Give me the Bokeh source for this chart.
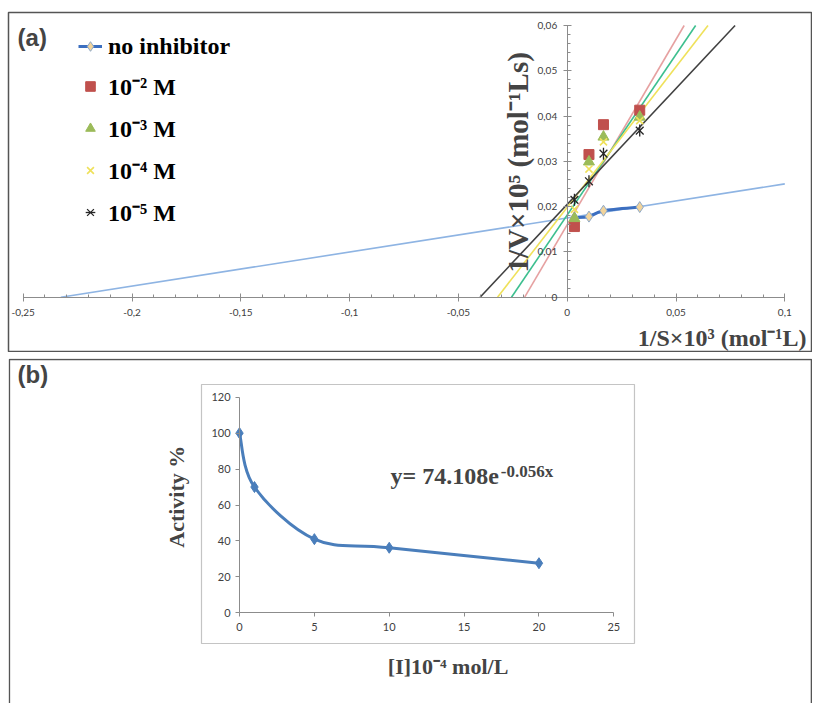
import numpy as np
from bokeh.plotting import figure
from bokeh.models import (FixedTicker, CustomJSTickFormatter, Label, Legend,
                          LegendItem, BoxAnnotation)
from bokeh.layouts import column
from bokeh.embed import file_html
from bokeh.resources import INLINE

# ---------------- data: panel (a) Lineweaver-Burk ----------------
inv_s = [0.00333, 0.01, 0.01667, 0.03333]          # 1/S x10^3
no_inhibitor = [0.0176, 0.0178, 0.0191, 0.0199]
inh_1e2 = [0.0156, 0.0315, 0.0381, 0.0413]
inh_1e3 = [0.0174, 0.0299, 0.0354, 0.0398]
inh_1e4 = [0.0194, 0.0283, 0.0343, 0.0390]
inh_1e5 = [0.0215, 0.0256, 0.0317, 0.0368]
series_labels = ["no inhibitor", "10⁻² M", "10⁻³ M", "10⁻⁴ M", "10⁻⁵ M"]
# linear trend lines (slope, intercept) for each series
trend_slope = [0.0752, 0.8186, 0.709, 0.6205, 0.512]
trend_icpt = [0.0175, 0.0160, 0.01815, 0.01986, 0.0205]
xa_ticks = [-0.25, -0.2, -0.15, -0.1, -0.05, 0, 0.05, 0.1]
ya_ticks = [0, 0.01, 0.02, 0.03, 0.04, 0.05, 0.06]

# ---------------- data: panel (b) activity ----------------
inhib_conc = [0, 1, 5, 10, 20]
activity = [100, 70, 41, 36.2, 27.6]
xb_ticks = [0, 5, 10, 15, 20, 25]
yb_ticks = [0, 20, 40, 60, 80, 100, 120]


def bezier_segments(xs, ys, t=1.0 / 6):
    xs = np.asarray(xs, float)
    ys = np.asarray(ys, float)
    n = len(xs)
    out = {k: [] for k in ("x0", "y0", "x1", "y1", "cx0", "cy0", "cx1", "cy1")}
    for i in range(n - 1):
        ip = max(i - 1, 0)
        inn = min(i + 2, n - 1)
        out["x0"].append(xs[i]); out["y0"].append(ys[i])
        out["x1"].append(xs[i + 1]); out["y1"].append(ys[i + 1])
        out["cx0"].append(xs[i] + (xs[i + 1] - xs[ip]) * t)
        out["cy0"].append(ys[i] + (ys[i + 1] - ys[ip]) * t)
        out["cx1"].append(xs[i + 1] - (xs[inn] - xs[i]) * t)
        out["cy1"].append(ys[i + 1] - (ys[inn] - ys[i]) * t)
    return out


AXIS_COLOR = "#8c8c8c"
TICK_TEXT = "#404040"
SERIF = "Liberation Serif"

# ================= panel (a) =================
pa = figure(width=812, height=352, x_range=(-0.25676, 0.11273),
            y_range=(-0.01221, 0.06287), output_backend="svg",
            toolbar_location=None, min_border_top=12, min_border_left=8,
            min_border_right=0, min_border_bottom=0)
pa.xgrid.visible = False
pa.ygrid.visible = False
pa.outline_line_color = "#555555"
pa.outline_line_width = 1.5

fmt_a = CustomJSTickFormatter(
    code="return tick === 0 ? '0' : String(Number(tick.toFixed(3))).replace('.', ',');")
pa.xaxis.fixed_location = 0
pa.xaxis.bounds = (xa_ticks[0], xa_ticks[-1])
pa.xaxis.ticker = FixedTicker(ticks=xa_ticks,
                              minor_ticks=[round(-0.25 + 0.01 * i, 3) for i in range(36)])
pa.yaxis.fixed_location = 0
pa.yaxis.bounds = (ya_ticks[0], ya_ticks[-1])
pa.yaxis.ticker = FixedTicker(ticks=ya_ticks,
                              minor_ticks=[round(0.002 * i, 3) for i in range(31)])
for ax in (pa.xaxis, pa.yaxis):
    ax.formatter = fmt_a
    ax.axis_line_color = AXIS_COLOR
    ax.major_tick_line_color = AXIS_COLOR
    ax.minor_tick_line_color = AXIS_COLOR
    ax.major_tick_in = 4
    ax.major_tick_out = 4
    ax.minor_tick_in = 3
    ax.minor_tick_out = 0
    ax.major_label_text_font = "Lato"
    ax.major_label_text_font_size = "10px"
    ax.major_label_text_color = TICK_TEXT
pa.xaxis.major_label_standoff = 8
pa.yaxis.major_label_standoff = 6

trend_colors = ["#8eb4e3", "#e6a1a1", "#3dbf8f", "#efe15a", "#404040"]
for m, b, c in zip(trend_slope, trend_icpt, trend_colors):
    x0 = max(xa_ticks[0], -b / m)
    x1 = min(xa_ticks[-1], (ya_ticks[-1] - b) / m)
    pa.line([x0, x1], [m * x0 + b, m * x1 + b], line_color=c, line_width=1.6)

seg = bezier_segments(inv_s, no_inhibitor)
r_curve = pa.bezier(line_color="#3c6fc0", line_width=3, **seg)
r_diam = pa.scatter(inv_s, no_inhibitor, marker="diamond", size=11,
                    fill_color="#f2d49b", line_color="#8ea9c8", line_width=1)
r_sq = pa.scatter(inv_s, inh_1e2, marker="square", size=10,
                  fill_color="#c0504d", line_color="#c0504d")
r_tri = pa.scatter(inv_s, inh_1e3, marker="triangle", size=11,
                   fill_color="#9bbb59", line_color="#9bbb59")
r_x = pa.scatter(inv_s, inh_1e4, marker="x", size=10,
                 line_color="#efe15a", line_width=1.6)
r_ast1 = pa.scatter(inv_s, inh_1e5, marker="x", size=11,
                    line_color="#262626", line_width=1.3)
r_ast2 = pa.scatter(inv_s, inh_1e5, marker="dash", size=12, angle=np.pi / 2,
                    line_color="#262626", line_width=1.3)

legend = Legend(items=[
    LegendItem(label=series_labels[0], renderers=[r_curve, r_diam]),
    LegendItem(label=series_labels[1], renderers=[r_sq]),
    LegendItem(label=series_labels[2], renderers=[r_tri]),
    LegendItem(label=series_labels[3], renderers=[r_x]),
    LegendItem(label=series_labels[4], renderers=[r_ast1, r_ast2]),
], location=(70, 124))
legend.label_text_font = SERIF
legend.label_text_font_style = "bold"
legend.label_text_font_size = "24px"
legend.label_text_color = "black"
legend.background_fill_alpha = 0
legend.border_line_color = None
legend.padding = 0
legend.margin = 0
legend.spacing = 9
legend.glyph_width = 24
legend.glyph_height = 28
legend.label_height = 28
legend.label_standoff = 6
pa.add_layout(legend)

pa.add_layout(Label(x=-0.2526, y=0.0574, text="(a)", text_font="Liberation Sans",
                    text_font_style="bold", text_font_size="24px",
                    text_baseline="middle", text_align="left"))
pa.add_layout(Label(x=-0.0224, y=0.0298, text="1/V×10⁵ (mol⁻¹Ls)", angle=np.pi / 2,
                    text_font=SERIF, text_font_style="bold", text_font_size="29px",
                    text_baseline="middle", text_align="center"))
pa.add_layout(Label(x=0.1100, y=-0.0091, text="1/S×10³ (mol⁻¹L)",
                    text_font=SERIF, text_font_style="bold", text_font_size="24px",
                    text_baseline="middle", text_align="right"))

# ================= panel (b) =================
pb = figure(width=812, height=351, x_range=(-15.43, 38.27),
            y_range=(-50.48, 141.54), output_backend="svg",
            toolbar_location=None, min_border_top=6, min_border_left=8,
            min_border_right=0, min_border_bottom=0)
pb.xgrid.visible = False
pb.ygrid.visible = False
pb.outline_line_color = None

# panel frame (open at the bottom edge, which lies beyond the page)
pb.add_layout(BoxAnnotation(left=-15.37, right=38.20, bottom=-120.0, top=141.0,
                            fill_color=None, fill_alpha=0, line_color="#555555",
                            line_alpha=1.0, line_width=1.5))

pb.xaxis.fixed_location = 0
pb.xaxis.bounds = (xb_ticks[0], xb_ticks[-1])
pb.xaxis.ticker = FixedTicker(ticks=xb_ticks)
pb.yaxis.fixed_location = 0
pb.yaxis.bounds = (yb_ticks[0], yb_ticks[-1])
pb.yaxis.ticker = FixedTicker(ticks=yb_ticks)
for ax in (pb.xaxis, pb.yaxis):
    ax.axis_line_color = AXIS_COLOR
    ax.major_tick_line_color = AXIS_COLOR
    ax.minor_tick_line_color = None
    ax.major_tick_in = 0
    ax.major_tick_out = 4
    ax.major_label_text_font = "Lato"
    ax.major_label_text_font_size = "11px"
    ax.major_label_text_color = TICK_TEXT
pb.xaxis.major_label_standoff = 6
pb.yaxis.major_label_standoff = 5

pb.add_layout(BoxAnnotation(left=-2.54, right=26.38, bottom=-17.09, top=127.07,
                            fill_color=None, fill_alpha=0, line_color="#c4c4c4",
                            line_alpha=1.0, line_width=1.2))

seg_b = bezier_segments(inhib_conc, activity)
pb.bezier(line_color="#4a7ebb", line_width=3, **seg_b)
pb.scatter(inhib_conc, activity, marker="diamond", size=11,
           fill_color="#4a7ebb", line_color="#4a7ebb")

pb.add_layout(Label(x=-14.83, y=132.6, text="(b)", text_font="Liberation Sans",
                    text_font_style="bold", text_font_size="24px",
                    text_baseline="middle", text_align="left"))
pb.add_layout(Label(x=-4.18, y=64.6, text="Activity %", angle=np.pi / 2,
                    text_font=SERIF, text_font_style="bold", text_font_size="22px",
                    text_baseline="middle", text_align="center"))
pb.add_layout(Label(x=13.93, y=-30.0, text="[I]10⁻⁴ mol/L",
                    text_font=SERIF, text_font_style="bold", text_font_size="22px",
                    text_baseline="middle", text_align="center"))
pb.add_layout(Label(x=10.09, y=76.4, text="y= 74.108e",
                    text_font=SERIF, text_font_style="bold", text_font_size="24px",
                    text_baseline="middle", text_align="left"))
pb.add_layout(Label(x=17.45, y=78.6, text="-0.056x",
                    text_font=SERIF, text_font_style="bold", text_font_size="17px",
                    text_baseline="middle", text_align="left"))

layout = column(pa, pb, spacing=0)
open("out.html", "w").write(file_html(layout, INLINE))
